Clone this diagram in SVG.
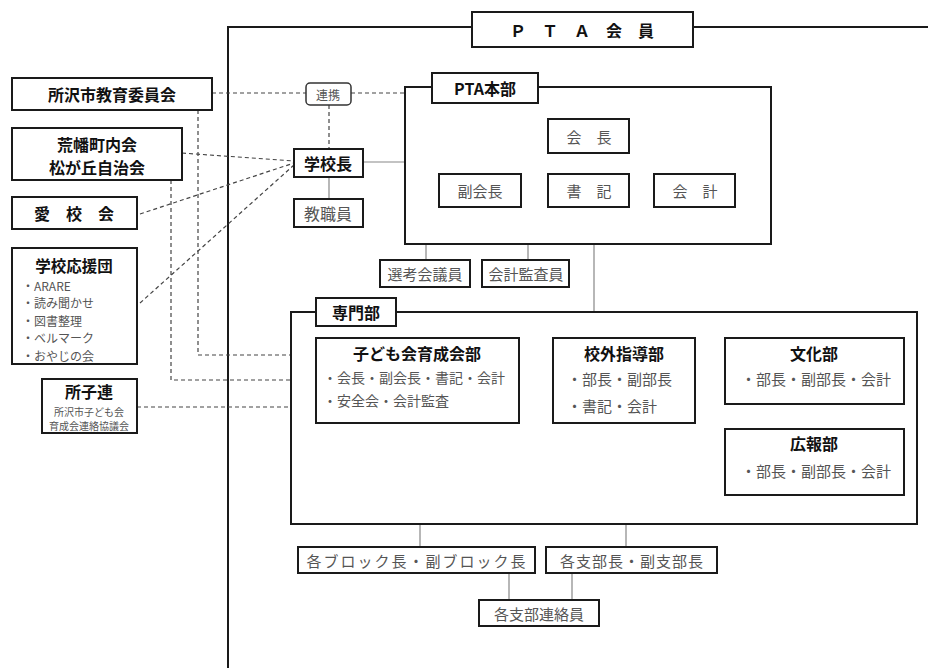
<svg xmlns="http://www.w3.org/2000/svg" width="928" height="668" viewBox="0 0 928 668">
<style>
text{font-family:"Noto Sans CJK JP","Noto Sans CJK SC",sans-serif;dominant-baseline:central}
.b{fill:#fff;stroke:#1a1a1a;stroke-width:2}
.t{font-size:16px;font-weight:bold;fill:#111;text-anchor:middle}
.g{font-size:15px;fill:#555;text-anchor:middle}
.l{font-size:14px;fill:#555}
.i{font-size:12px;fill:#555}
.s{fill:none;stroke:#888;stroke-width:1.2}
.d{fill:none;stroke:#444;stroke-width:1.2;stroke-dasharray:4 3}
.f{fill:none;stroke:#1a1a1a;stroke-width:2}
</style>
<rect width="928" height="668" fill="#fff"/>
<g id="connectors">
<path class="f" d="M928,27 H228 V668"/>
<path class="s" d="M363,162 H405"/>
<path class="s" d="M329,177 V199"/>
<path class="s" d="M589,153 V174 M481,162 H696 M481,162 V174 M696,162 V174"/>
<path class="s" d="M426,244 V260 M528,244 V260 M594,244 V312"/>
<path class="s" d="M420,423 V547 M626,423 V547 M509,573 V600 M572,573 V600"/>
<path class="d" d="M212,93 H306 M351,93 H405 M329,105 V149"/>
<path class="d" d="M182,153 L294,161 M140,214 L294,163 M140,303 L294,165"/>
<path class="d" d="M198,110 V355 H316 M171,180 V380 H316 M137,407 H316"/>
</g>
<g id="pta-member"><rect class="b" x="472" y="12" width="221" height="35"/><text class="t" x="582" y="30">Ｐ　Ｔ　Ａ　会　員</text></g>
<g id="kyoiku"><rect class="b" x="12" y="78" width="200" height="32"/><text class="t" x="112" y="94">所沢市教育委員会</text></g>
<g id="chonaikai"><rect class="b" x="12" y="128" width="170" height="52"/><text class="t" x="97" y="144">荒幡町内会</text><text class="t" x="97" y="167">松が丘自治会</text></g>
<g id="aikokai"><rect class="b" x="12" y="197" width="125" height="32"/><text class="t" x="74" y="213">愛　校　会</text></g>
<g id="oendan"><rect class="b" x="12" y="248" width="125" height="116"/><text class="t" x="74" y="265" style="font-size:15.5px">学校応援団</text>
<text class="i" x="22" y="285">・ARARE</text><text class="i" x="22" y="302.5">・読み聞かせ</text><text class="i" x="22" y="320">・図書整理</text><text class="i" x="22" y="337.5">・ベルマーク</text><text class="i" x="22" y="355">・おやじの会</text></g>
<g id="shokoren"><rect class="b" x="42" y="379" width="95" height="54"/><text class="t" x="89" y="391">所子連</text><text class="g" x="89" y="411" style="font-size:10px">所沢市子ども会</text><text class="g" x="89" y="425.5" style="font-size:10px">育成会連絡協議会</text></g>
<g id="renkei"><rect x="306" y="83" width="45" height="22" rx="4" fill="#fff" stroke="#333" stroke-width="1.5"/><text class="g" x="328" y="94" style="font-size:12px">連携</text></g>
<g id="kochou"><rect class="b" x="294" y="149" width="69" height="28"/><text class="t" x="328" y="163">学校長</text></g>
<g id="kyoshokuin"><rect class="b" x="294" y="199" width="69" height="28"/><text class="g" x="328" y="213" style="font-size:16px">教職員</text></g>
<g id="honbu"><rect class="b" x="405" y="87" width="366" height="157"/><rect class="b" x="432" y="73" width="106" height="30"/><text class="t" x="485" y="88">PTA本部</text></g>
<g id="kaicho"><rect class="b" x="548" y="119" width="81" height="34"/><text class="g" x="589" y="136">会　長</text></g>
<g id="fukukaicho"><rect class="b" x="439" y="174" width="82" height="33"/><text class="g" x="480" y="190">副会長</text></g>
<g id="shoki"><rect class="b" x="548" y="174" width="81" height="33"/><text class="g" x="589" y="190">書　記</text></g>
<g id="kaikei"><rect class="b" x="654" y="174" width="81" height="33"/><text class="g" x="695" y="190">会　計</text></g>
<g id="senko"><rect class="b" x="380" y="260" width="90" height="27"/><text class="g" x="425" y="273">選考会議員</text></g>
<g id="kansa"><rect class="b" x="482" y="260" width="87" height="27"/><text class="g" x="526" y="273">会計監査員</text></g>
<g id="senmonbu"><rect class="b" x="291" y="312" width="626" height="212"/><rect class="b" x="316" y="298" width="80" height="28"/><text class="t" x="356" y="312">専門部</text></g>
<g id="kodomokai"><rect class="b" x="316" y="338" width="203" height="85"/><text class="t" x="417" y="353">子ども会育成会部</text><text class="l" x="323" y="377">・会長・副会長・書記・会計</text><text class="l" x="323" y="400">・安全会・会計監査</text></g>
<g id="kogai"><rect class="b" x="553" y="338" width="142" height="85"/><text class="t" x="624" y="353">校外指導部</text><text class="l" x="567" y="378" style="font-size:15px">・部長・副部長</text><text class="l" x="567" y="405" style="font-size:15px">・書記・会計</text></g>
<g id="bunka"><rect class="b" x="725" y="338" width="179" height="66"/><text class="t" x="814" y="353">文化部</text><text class="g" x="816" y="378">・部長・副部長・会計</text></g>
<g id="koho"><rect class="b" x="725" y="429" width="179" height="66"/><text class="t" x="814" y="443">広報部</text><text class="g" x="816" y="470">・部長・副部長・会計</text></g>
<g id="block"><rect class="b" x="298" y="547" width="237" height="26"/><text class="g" x="417" y="560" style="letter-spacing:2px">各ブロック長・副ブロック長</text></g>
<g id="shibucho"><rect class="b" x="546" y="547" width="171" height="26"/><text class="g" x="632" y="560" style="letter-spacing:1px">各支部長・副支部長</text></g>
<g id="renrakuin"><rect class="b" x="479" y="600" width="120" height="26"/><text class="g" x="539" y="613">各支部連絡員</text></g>
</svg>
